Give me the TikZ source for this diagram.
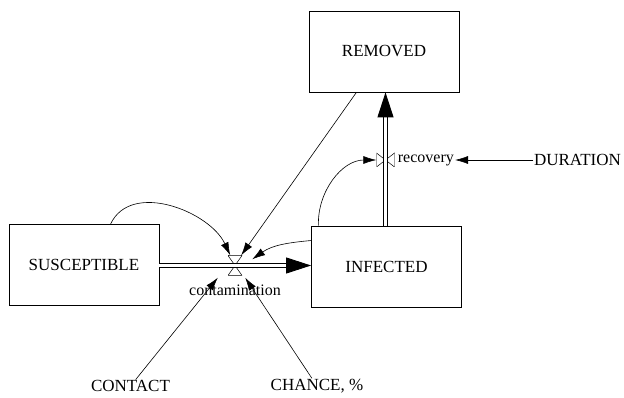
\documentclass[tikz,border=0pt]{standalone}
\usepackage{fontspec}
\setmainfont{Liberation Serif}
\usetikzlibrary{arrows.meta,positioning}
\tikzset{
  font={\fontsize{17pt}{20pt}\selectfont}}

\begin{document}
\begin{tikzpicture}[x=1pt,y=1pt]
\tikzset{
  stock/.style={draw,line width=0.8pt,minimum width=150pt,minimum height=81pt,inner sep=0pt},
  valvev/.style={minimum width=14pt,minimum height=20pt,inner sep=0pt,
    path picture={\draw[line width=0.5pt] (path picture bounding box.north west) -- (path picture bounding box.north east)
      -- (path picture bounding box.south west) -- (path picture bounding box.south east) -- cycle;}},
  valveh/.style={minimum width=18pt,minimum height=14pt,inner sep=0pt,
    path picture={\draw[line width=0.5pt] (path picture bounding box.north west) -- (path picture bounding box.south west)
      -- (path picture bounding box.north east) -- (path picture bounding box.south east) -- cycle;}},
  small/.style={font={\fontsize{16pt}{18pt}\selectfont},inner sep=1pt},
  pipe/.style={double,double distance=3.6pt,line width=0.9pt,-{Triangle[length=25pt,width=16pt]}},
  info/.style={line width=0.6pt,-{Latex[length=13pt,width=8pt]}},
  every node/.append style={inner sep=0.5pt}
}
\useasboundingbox (0,0) rectangle (624,-398);
\node[stock] (sus) at (84,-265) {SUSCEPTIBLE};
\node[stock] (inf) at (386.5,-266.5) {INFECTED};
\node[stock] (rem) at (384,-51.5) {REMOVED};
\node[valvev] (cont) at (235,-265.5) {};
\node[small] (contlab) at (235,-290) {contamination};
\node[valveh] (rec) at (385.5,-160) {};
\node[small,right=2pt of rec] (reclab) {recovery};
\node (dur) at (577.5,-160) {DURATION};
\node (contact) at (130.5,-386) {CONTACT};
\node (chance) at (317,-386) {CHANCE, \%};
\draw[pipe] (sus.east |- cont) -- (inf.west |- cont);
\draw[pipe] (inf.north -| rec) -- (rem.south -| rec);
\draw[info] (sus.57) to[out=65,in=115] (cont);
\draw[info] (rem.236) -- ([xshift=-1pt]cont.north east);
\draw[info] (inf.161) to[out=185,in=35] ([xshift=10pt,yshift=-4pt]cont.north east);
\draw[info] (contact) -- ([xshift=-10pt,yshift=-2pt]cont.south west);
\draw[info] (chance) -- ([xshift=3pt,yshift=-2pt]cont.south east);
\draw[info] (inf.149) to[out=92,in=180] (rec);
\draw[info] (dur) -- (reclab);
\end{tikzpicture}
\end{document}
